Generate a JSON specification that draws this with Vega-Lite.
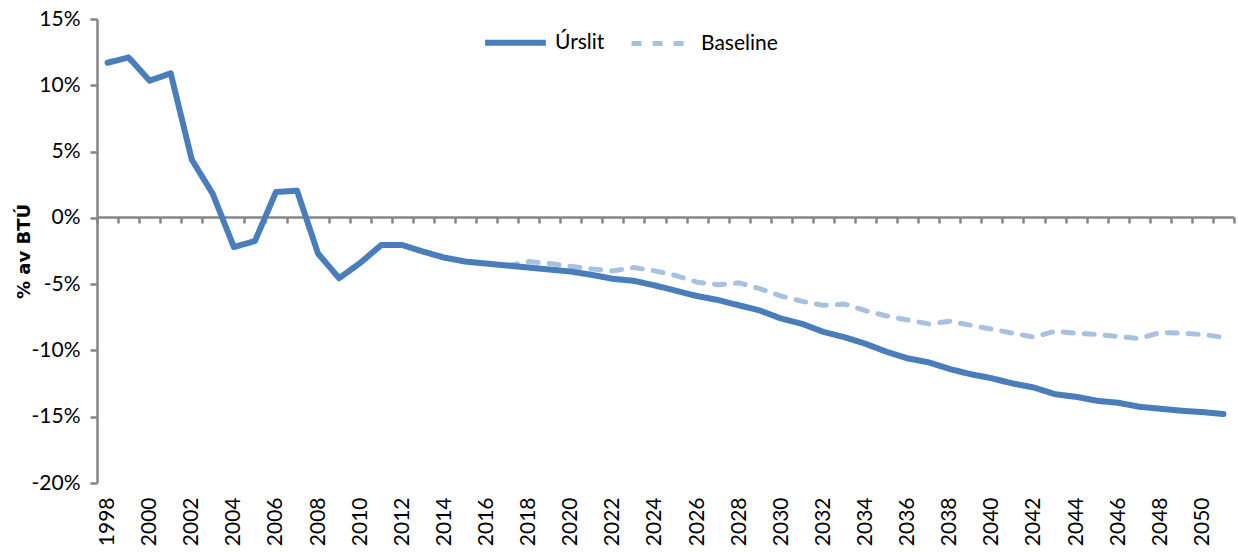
{
  "$schema": "https://vega.github.io/schema/vega-lite/v6.json",
  "width": 1137,
  "height": 464,
  "autosize": {"type": "none"},
  "padding": {"left": 97, "top": 19, "right": 5, "bottom": 69},
  "config": {
    "view": {"stroke": null},
    "font": "Lato",
    "axis": {"labelFont": "Lato", "titleFont": "Lato", "labelColor": "#000000", "titleColor": "#000000"}
  },
  "datasets": {
    "urslit": [
      {"year": "1998", "v": 11.7}, {"year": "1999", "v": 12.1}, {"year": "2000", "v": 10.35},
      {"year": "2001", "v": 10.9}, {"year": "2002", "v": 4.4}, {"year": "2003", "v": 1.8},
      {"year": "2004", "v": -2.2}, {"year": "2005", "v": -1.75}, {"year": "2006", "v": 1.95},
      {"year": "2007", "v": 2.05}, {"year": "2008", "v": -2.7}, {"year": "2009", "v": -4.55},
      {"year": "2010", "v": -3.4}, {"year": "2011", "v": -2.05}, {"year": "2012", "v": -2.05},
      {"year": "2013", "v": -2.55}, {"year": "2014", "v": -3.0}, {"year": "2015", "v": -3.3},
      {"year": "2016", "v": -3.45}, {"year": "2017", "v": -3.6}, {"year": "2018", "v": -3.75},
      {"year": "2019", "v": -3.9}, {"year": "2020", "v": -4.05}, {"year": "2021", "v": -4.3},
      {"year": "2022", "v": -4.6}, {"year": "2023", "v": -4.75}, {"year": "2024", "v": -5.1},
      {"year": "2025", "v": -5.5}, {"year": "2026", "v": -5.9}, {"year": "2027", "v": -6.2},
      {"year": "2028", "v": -6.6}, {"year": "2029", "v": -7.0}, {"year": "2030", "v": -7.6},
      {"year": "2031", "v": -8.0}, {"year": "2032", "v": -8.6}, {"year": "2033", "v": -9.0},
      {"year": "2034", "v": -9.5}, {"year": "2035", "v": -10.1}, {"year": "2036", "v": -10.6},
      {"year": "2037", "v": -10.9}, {"year": "2038", "v": -11.4}, {"year": "2039", "v": -11.8},
      {"year": "2040", "v": -12.1}, {"year": "2041", "v": -12.5}, {"year": "2042", "v": -12.8},
      {"year": "2043", "v": -13.3}, {"year": "2044", "v": -13.5}, {"year": "2045", "v": -13.8},
      {"year": "2046", "v": -13.95}, {"year": "2047", "v": -14.25}, {"year": "2048", "v": -14.4},
      {"year": "2049", "v": -14.55}, {"year": "2050", "v": -14.65}, {"year": "2051", "v": -14.8}
    ],
    "baseline": [
      {"year": "2017", "v": -3.6}, {"year": "2018", "v": -3.3}, {"year": "2019", "v": -3.45},
      {"year": "2020", "v": -3.65}, {"year": "2021", "v": -3.85}, {"year": "2022", "v": -4.0},
      {"year": "2023", "v": -3.75}, {"year": "2024", "v": -4.0}, {"year": "2025", "v": -4.35},
      {"year": "2026", "v": -4.85}, {"year": "2027", "v": -5.05}, {"year": "2028", "v": -4.9},
      {"year": "2029", "v": -5.35}, {"year": "2030", "v": -5.9}, {"year": "2031", "v": -6.3},
      {"year": "2032", "v": -6.6}, {"year": "2033", "v": -6.5}, {"year": "2034", "v": -7.0},
      {"year": "2035", "v": -7.4}, {"year": "2036", "v": -7.7}, {"year": "2037", "v": -8.0},
      {"year": "2038", "v": -7.8}, {"year": "2039", "v": -8.1}, {"year": "2040", "v": -8.4},
      {"year": "2041", "v": -8.7}, {"year": "2042", "v": -9.0}, {"year": "2043", "v": -8.55},
      {"year": "2044", "v": -8.7}, {"year": "2045", "v": -8.8}, {"year": "2046", "v": -8.95},
      {"year": "2047", "v": -9.1}, {"year": "2048", "v": -8.65}, {"year": "2049", "v": -8.7},
      {"year": "2050", "v": -8.8}, {"year": "2051", "v": -9.0}
    ]
  },
  "data": {"name": "urslit"},
  "transform": [
    {"calculate": "'Úrslit'", "as": "series"}
  ],
  "layer": [
    {
      "data": {"name": "baseline"},
      "transform": [{"calculate": "'Baseline'", "as": "series"}],
      "mark": {"type": "line", "strokeCap": "round", "strokeJoin": "round"},
      "encoding": {
        "x": {"field": "year", "type": "ordinal"},
        "y": {"field": "v", "type": "quantitative"},
        "color": {"field": "series", "type": "nominal"},
        "strokeDash": {"field": "series", "type": "nominal"},
        "strokeWidth": {"field": "series", "type": "nominal"}
      }
    },
    {
      "mark": {"type": "line", "strokeCap": "round", "strokeJoin": "round"},
      "encoding": {
        "x": {
          "field": "year", "type": "ordinal",
          "scale": {"type": "band", "paddingInner": 0, "paddingOuter": 0},
          "axis": {
            "title": null,
            "offset": -266,
            "tickBand": "extent",
            "domainColor": "#868686", "domainWidth": 2.5,
            "tickColor": "#868686", "tickWidth": 2.5, "tickSize": 6,
            "labelAngle": 270, "labelFontSize": 21, "labelPadding": 274,
            "labelOverlap": false,
            "labelExpr": "parseInt(datum.value) % 2 == 0 ? datum.value : ''"
          }
        },
        "y": {
          "field": "v", "type": "quantitative",
          "scale": {"domain": [-20, 15], "nice": false, "zero": false},
          "axis": {
            "title": "% av BTÚ",
            "titleFont": "DejaVu Sans",
            "titleFontSize": 18, "titleFontWeight": "bold",
            "titleX": -68, "titleBaseline": "alphabetic",
            "values": [-20, -15, -10, -5, 0, 5, 10, 15],
            "labelExpr": "datum.value + '%'",
            "labelFontSize": 21, "labelPadding": 10,
            "grid": false,
            "domainColor": "#868686", "domainWidth": 2.5,
            "tickColor": "#868686", "tickWidth": 2.5, "tickSize": 7
          }
        },
        "color": {
          "field": "series", "type": "nominal",
          "scale": {"domain": ["Úrslit", "Baseline"], "range": ["#4A7EBB", "#A7C1E0"]},
          "legend": {
            "title": null, "orient": "none", "legendX": 385, "legendY": -10,
            "direction": "horizontal", "symbolType": "stroke", "symbolSize": 3700,
            "labelFontSize": 21, "labelFont": "Lato", "labelColor": "#000000",
            "labelOffset": 6, "columnPadding": 16
          }
        },
        "strokeDash": {
          "field": "series", "type": "nominal",
          "scale": {"domain": ["Úrslit", "Baseline"], "range": [[1, 0], [10, 11]]}
        },
        "strokeWidth": {
          "field": "series", "type": "nominal",
          "scale": {"domain": ["Úrslit", "Baseline"], "range": [6, 5]}
        }
      }
    }
  ]
}
